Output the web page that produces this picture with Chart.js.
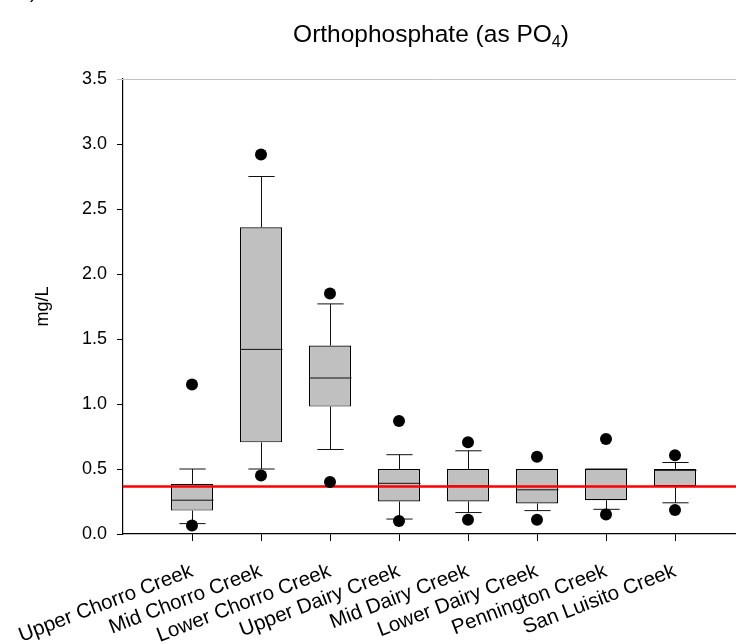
<!DOCTYPE html>
<html>
<head>
<meta charset="utf-8">
<script src="https://cdn.jsdelivr.net/npm/chart.js@4/dist/chart.umd.min.js"></script>
<style>
  html, body { margin: 0; padding: 0; background: #fff; overflow: hidden; }
  #wrap { position: relative; width: 736px; height: 644px; overflow: hidden; }
  canvas { display: block; }
</style>
</head>
<body>
<div id="wrap"><canvas id="chart" width="760" height="644"></canvas></div>
<script>
// Orthophosphate (as PO4) by monitoring site, mg/L
const sites = ['Upper Chorro Creek', 'Mid Chorro Creek', 'Lower Chorro Creek', 'Upper Dairy Creek',
               'Mid Dairy Creek', 'Lower Dairy Creek', 'Pennington Creek', 'San Luisito Creek'];
const whiskerLow  = [0.08, 0.50, 0.65, 0.115, 0.165, 0.18, 0.19, 0.24];
const q1          = [0.18, 0.705, 0.98, 0.25, 0.25, 0.235, 0.26, 0.37];
const median      = [0.26, 1.42, 1.20, 0.39, 0.37, 0.34, 0.50, 0.49];
const q3          = [0.385, 2.36, 1.45, 0.50, 0.50, 0.50, 0.50, 0.50];
const whiskerHigh = [0.50, 2.75, 1.77, 0.61, 0.64, 0.50, 0.50, 0.55];
const outlierLow  = [0.065, 0.45, 0.40, 0.10, 0.11, 0.11, 0.15, 0.185];
const outlierHigh = [1.15, 2.92, 1.85, 0.87, 0.705, 0.595, 0.73, 0.605];
const yTickValues = [0, 0.5, 1.0, 1.5, 2.0, 2.5, 3.0, 3.5];
const threshold = 0.365;

const FONT = "'Liberation Sans', Arial, Helvetica, sans-serif";

const positions = sites.map((_, i) => i + 1);
const outlierPoints = [];
positions.forEach((x, i) => {
  outlierPoints.push({ x, y: outlierLow[i] });
  outlierPoints.push({ x, y: outlierHigh[i] });
});

// whiskers, caps and median lines drawn right after the boxes
const boxDetails = {
  id: 'boxDetails',
  afterDatasetDraw(chart, args) {
    if (args.index !== 0) return;
    const { ctx } = chart;
    const xs = chart.scales.x, ys = chart.scales.y;
    const meta = chart.getDatasetMeta(0);
    const capHalf = xs.getPixelForValue(1.19) - xs.getPixelForValue(1);
    ctx.save();
    ctx.strokeStyle = '#111';
    ctx.lineWidth = 1;
    positions.forEach((pos, i) => {
      const cx = Math.round(xs.getPixelForValue(pos)) + 0.5;
      const half = meta.data[i].width / 2;
      const yq1 = ys.getPixelForValue(q1[i]);
      const yq3 = ys.getPixelForValue(q3[i]);
      const yLo = ys.getPixelForValue(whiskerLow[i]);
      const yHi = ys.getPixelForValue(whiskerHigh[i]);
      const yMed = ys.getPixelForValue(median[i]);
      ctx.beginPath();
      if (whiskerHigh[i] > q3[i]) {
        ctx.moveTo(cx, yq3); ctx.lineTo(cx, yHi);
        ctx.moveTo(cx - capHalf, yHi); ctx.lineTo(cx + capHalf, yHi);
      }
      if (whiskerLow[i] < q1[i]) {
        ctx.moveTo(cx, yq1); ctx.lineTo(cx, yLo);
        ctx.moveTo(cx - capHalf, yLo); ctx.lineTo(cx + capHalf, yLo);
      }
      ctx.moveTo(cx - half, yMed); ctx.lineTo(cx + half, yMed);
      ctx.stroke();
    });
    ctx.restore();
  }
};

// chart title with subscript, top frame line and panel letter
const frameAndTitle = {
  id: 'frameAndTitle',
  afterDraw(chart) {
    const { ctx, chartArea } = chart;
    ctx.save();
    ctx.strokeStyle = '#c4c4c4';
    ctx.lineWidth = 1;
    ctx.beginPath();
    ctx.moveTo(chartArea.left - 6, Math.round(chartArea.top) + 0.5);
    ctx.lineTo(chart.width, Math.round(chartArea.top) + 0.5);
    ctx.stroke();

    ctx.fillStyle = '#000';
    ctx.textBaseline = 'alphabetic';
    const main = 'Orthophosphate (as PO', sub = '4', tail = ')';
    const bigFont = '24.5px ' + FONT, subFont = '16px ' + FONT;
    ctx.font = bigFont;
    const wMain = ctx.measureText(main).width, wTail = ctx.measureText(tail).width;
    ctx.font = subFont;
    const wSub = ctx.measureText(sub).width;
    const total = wMain + wSub + wTail;
    let x = 431 - total / 2;
    const base = 42;
    ctx.textAlign = 'left';
    ctx.font = bigFont; ctx.fillText(main, x, base); x += wMain;
    ctx.font = subFont; ctx.fillText(sub, x, base + 5); x += wSub;
    ctx.font = bigFont; ctx.fillText(tail, x, base);

    ctx.font = '20px ' + FONT;
    ctx.fillText('a)', 19, -2);
    ctx.restore();
  }
};

new Chart(document.getElementById('chart'), {
  data: {
    datasets: [
      {
        type: 'bar',
        data: positions.map((x, i) => ({ x, y: [q1[i], q3[i]] })),
        backgroundColor: '#c0c0c0',
        borderColor: '#000',
        borderWidth: 1.2,
        borderSkipped: false,
        barPercentage: 0.61,
        categoryPercentage: 1,
        order: 3
      },
      {
        type: 'line',
        data: [{ x: 0, y: threshold }, { x: 9, y: threshold }],
        borderColor: '#ff0000',
        borderWidth: 2.6,
        pointRadius: 0,
        order: 2
      },
      {
        type: 'scatter',
        data: outlierPoints,
        backgroundColor: '#000',
        borderWidth: 0,
        pointRadius: 6,
        order: 1
      }
    ]
  },
  options: {
    responsive: false,
    animation: false,
    events: [],
    layout: { padding: { top: 79, right: 16, left: 0, bottom: 0 } },
    plugins: { legend: { display: false }, tooltip: { enabled: false }, title: { display: false } },
    scales: {
      x: {
        type: 'linear',
        offset: false,
        min: 0,
        max: 9,
        afterBuildTicks: (scale) => { scale.ticks = positions.map(v => ({ value: v })); },
        afterFit: (scale) => {
          scale.height = 110;
          // rotated labels may run past the left edge of the plot
          scale.paddingLeft = 0;
          scale.paddingRight = 0;
        },
        grid: { offset: false, drawOnChartArea: false, drawTicks: true, tickLength: 7, color: '#000', lineWidth: 1 },
        border: { color: '#000', width: 1.2 },
        ticks: {
          autoSkip: false,
          minRotation: 21,
          maxRotation: 21,
          padding: 18,
          color: '#000',
          font: { family: FONT, size: 20.5 },
          callback: (v) => sites[v - 1]
        }
      },
      y: {
        min: 0,
        max: 3.5,
        afterBuildTicks: (scale) => { scale.ticks = yTickValues.map(v => ({ value: v })); },
        afterFit: (scale) => { scale.width = 123; },
        grid: { drawOnChartArea: false, drawTicks: true, tickLength: 6, color: '#000', lineWidth: 1 },
        border: { color: '#000', width: 1.2 },
        ticks: {
          padding: 10,
          color: '#000',
          font: { family: FONT, size: 18 },
          callback: (v) => Number(v).toFixed(1)
        },
        title: {
          display: true,
          text: 'mg/L',
          color: '#000',
          font: { family: FONT, size: 18 },
          padding: { top: 32, bottom: 0 }
        }
      }
    }
  },
  plugins: [boxDetails, frameAndTitle]
});
</script>
</body>
</html>
